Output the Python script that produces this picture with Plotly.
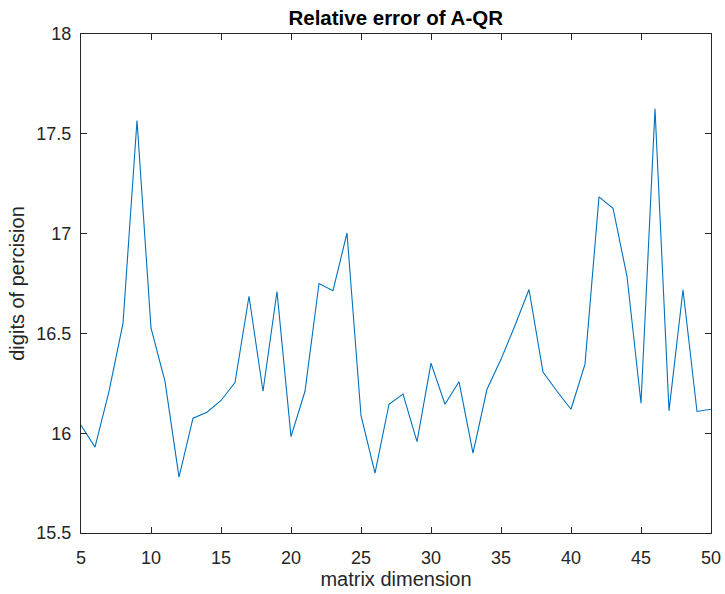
import plotly.graph_objects as go

dims = list(range(5, 51))
digits = [16.04, 15.93, 16.21, 16.55, 17.567, 16.527, 16.26, 15.78, 16.075, 16.105,
          16.164, 16.254, 16.686, 16.21, 16.71, 15.983, 16.21, 16.75, 16.714, 17.003,
          16.089, 15.80, 16.145, 16.196, 15.958, 16.351, 16.145, 16.258, 15.90, 16.22,
          16.37, 16.54, 16.72, 16.306, 16.21, 16.12, 16.346, 17.184, 17.127, 16.786,
          16.15, 17.625, 16.112, 16.719, 16.109, 16.12]

xtick_vals = [5, 10, 15, 20, 25, 30, 35, 40, 45, 50]
ytick_vals = [15.5, 16, 16.5, 17, 17.5, 18]
ytick_text = ["15.5", "16", "16.5", "17", "17.5", "18"]

axcol = "#262626"
font = "Liberation Sans, Arial, sans-serif"

fig = go.Figure()
fig.add_trace(go.Scatter(x=dims, y=digits, mode="lines",
                         line=dict(color="#0072BD", width=1.1), showlegend=False))

fig.update_layout(
    width=725, height=594,
    margin=dict(l=81, r=14, t=34, b=61, autoexpand=False),
    paper_bgcolor="white", plot_bgcolor="white",
    font=dict(family=font, color=axcol, size=18),
    title=dict(text="<b>Relative error of A-QR</b>", x=0.5458, xanchor="center",
               y=0.9705, yanchor="middle", font=dict(size=20.5, color="black", family=font)),
)
fig.update_xaxes(range=[5, 50], tickvals=xtick_vals, ticks="inside", ticklen=6,
                 tickcolor=axcol, showline=True, linecolor=axcol, linewidth=1.2,
                 mirror="ticks", showgrid=False, zeroline=False, automargin=False,
                 tickfont=dict(size=18, color=axcol), ticklabelstandoff=8,
                 title=dict(text="matrix dimension", font=dict(size=20, color=axcol), standoff=4))
fig.update_yaxes(range=[15.5, 18], tickvals=ytick_vals, ticktext=ytick_text, ticks="inside",
                 ticklen=6, tickcolor=axcol, showline=True, linecolor=axcol, linewidth=1.2,
                 mirror="ticks", showgrid=False, zeroline=False, automargin=False,
                 tickfont=dict(size=18, color=axcol), ticklabelstandoff=5,
                 title=dict(text="digits of percision", font=dict(size=20, color=axcol), standoff=6))

fig.write_html("out.html", config={"displayModeBar": False},
               post_script="document.body.style.margin='0';document.body.style.overflow='hidden';")
